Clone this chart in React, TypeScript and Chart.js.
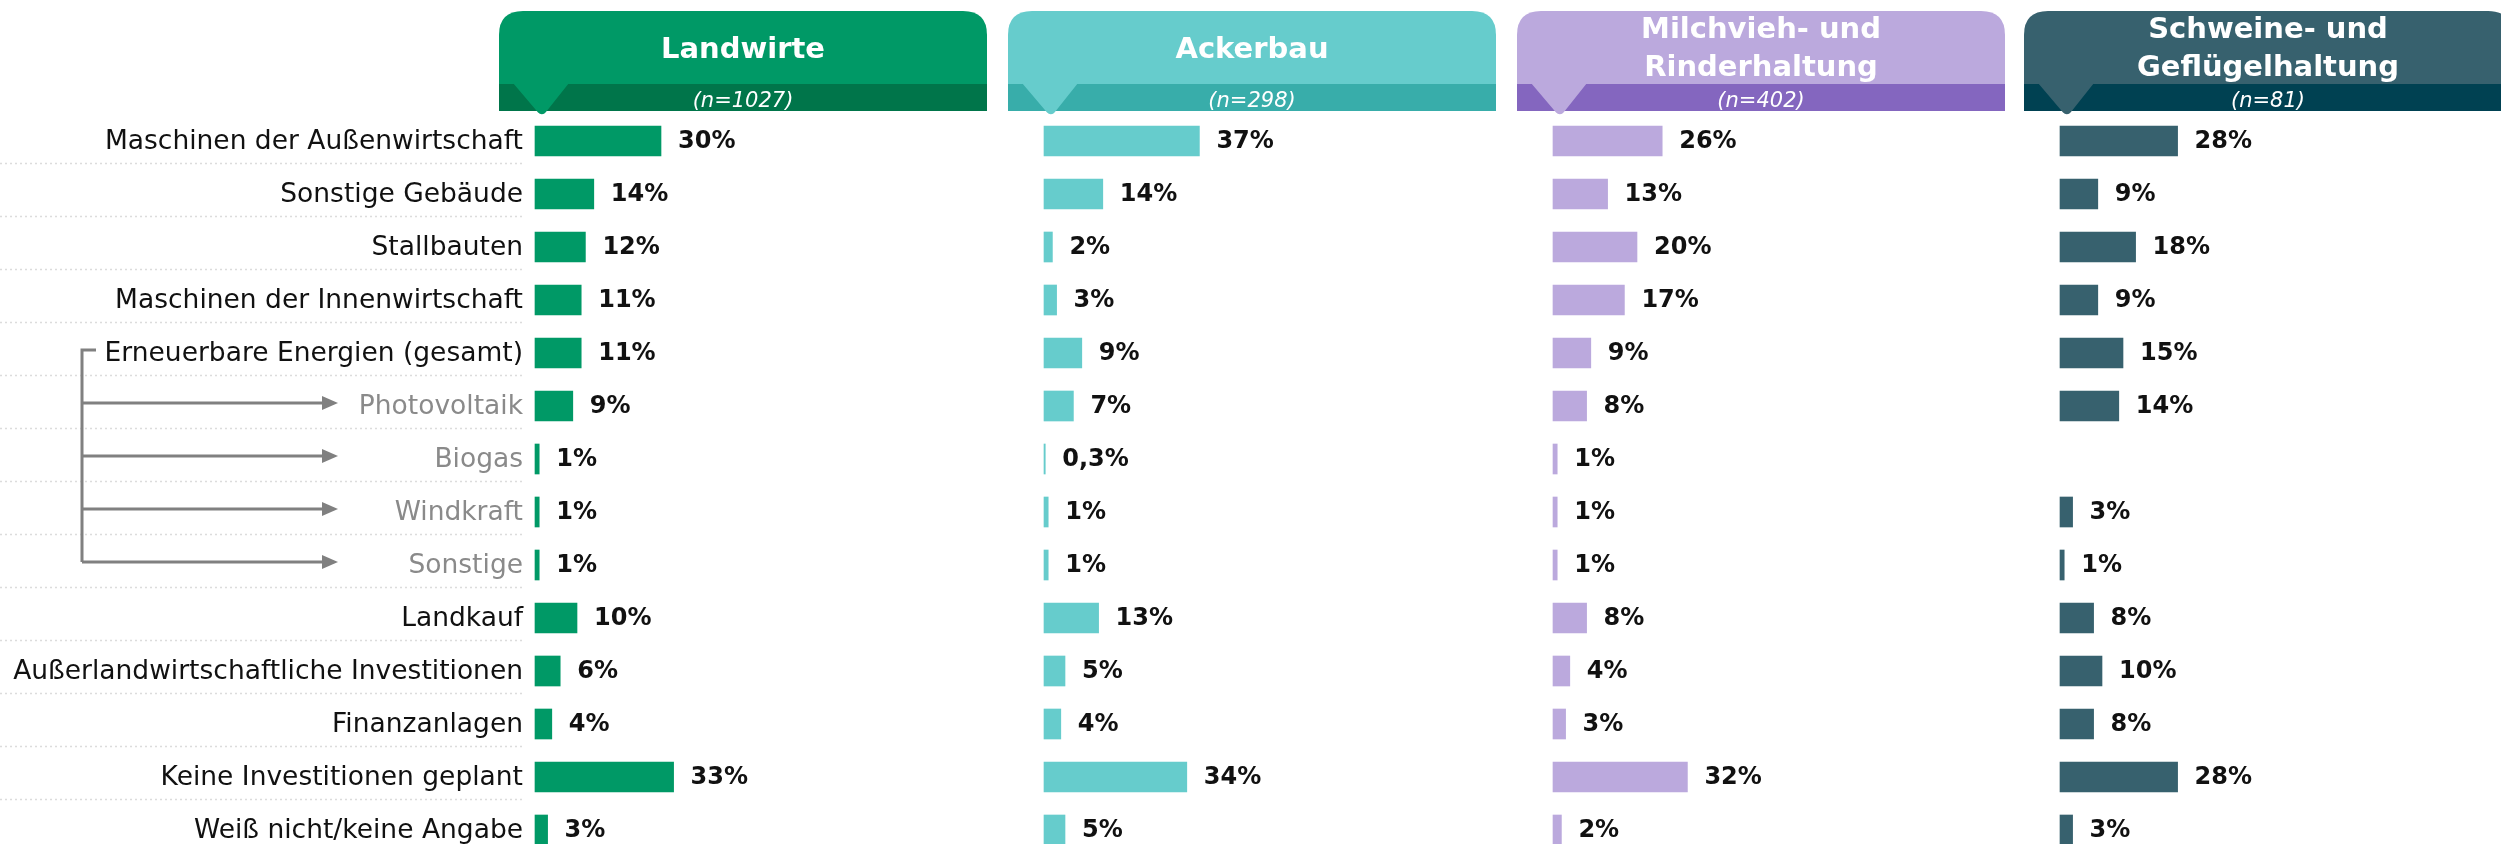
import { useEffect, useRef } from "react";
import { Chart, registerables } from "chart.js";

Chart.register(...registerables);

// ---------- data ----------
const categories = [
  "Maschinen der Außenwirtschaft",
  "Sonstige Gebäude",
  "Stallbauten",
  "Maschinen der Innenwirtschaft",
  "Erneuerbare Energien (gesamt)",
  "Photovoltaik",
  "Biogas",
  "Windkraft",
  "Sonstige",
  "Landkauf",
  "Außerlandwirtschaftliche Investitionen",
  "Finanzanlagen",
  "Keine Investitionen geplant",
  "Weiß nicht/keine Angabe",
];
const subCategory = [false, false, false, false, false, true, true, true, true, false, false, false, false, false];
const parentIndex = 4;

const landwirte = [30, 14, 12, 11, 11, 9, 1, 1, 1, 10, 6, 4, 33, 3];
const ackerbau = [37, 14, 2, 3, 9, 7, 0.3, 1, 1, 13, 5, 4, 34, 5];
const milchvieh = [26, 13, 20, 17, 9, 8, 1, 1, 1, 8, 4, 3, 32, 2];
const schweine = [28, 9, 18, 9, 15, 14, null, 3, 1, 8, 10, 8, 28, 3];

const groupTitles = [["Landwirte"], ["Ackerbau"], ["Milchvieh- und", "Rinderhaltung"], ["Schweine- und", "Geflügelhaltung"]];
const groupN = ["1027", "298", "402", "81"];
const series = [landwirte, ackerbau, milchvieh, schweine];

// ---------- layout / style ----------
const W = 2501;
const H = 844;
const SCALE_W = 420;
const FONT = "'DejaVu Sans', 'Noto Sans', sans-serif";
const panels = [
  { left: 0, width: 1008, axisWidth: 535, light: "#009966", dark: "#00754A" },
  { left: 1008, width: 509, axisWidth: 36, light: "#66CCCC", dark: "#38ADAA" },
  { left: 1517, width: 507, axisWidth: 36, light: "#BBA9DD", dark: "#8466BF" },
  { left: 2024, width: 477, axisWidth: 36, light: "#37616E", dark: "#004152" },
];

function fmt(v: number) {
  return String(v).replace(".", ",") + "%";
}

function makePlugin(k: number) {
  const p = panels[k];
  return {
    id: "decor" + k,
    beforeDatasetsDraw(chart: any) {
      if (k !== 0) return;
      const ctx = chart.ctx;
      const y = chart.scales.y;
      ctx.save();
      ctx.strokeStyle = "#dcdcdc";
      ctx.lineWidth = 1.5;
      ctx.setLineDash([2, 3]);
      for (let i = 0; i < categories.length - 1; i++) {
        const yy = y.getPixelForValue(i + 0.5) - 4;
        ctx.beginPath();
        ctx.moveTo(0, yy);
        ctx.lineTo(525, yy);
        ctx.stroke();
      }
      ctx.setLineDash([]);
      // bracket with arrows
      ctx.strokeStyle = "#808080";
      ctx.fillStyle = "#808080";
      ctx.lineWidth = 3;
      const subs = subCategory.map((s, i) => (s ? i : -1)).filter((i) => i >= 0);
      const yTop = y.getPixelForValue(parentIndex) - 3;
      const yBot = y.getPixelForValue(subs[subs.length - 1]) - 3;
      ctx.beginPath();
      ctx.moveTo(96, yTop);
      ctx.lineTo(82, yTop);
      ctx.lineTo(82, yBot);
      ctx.stroke();
      subs.forEach((i) => {
        const yy = y.getPixelForValue(i) - 3;
        ctx.beginPath();
        ctx.moveTo(82, yy);
        ctx.lineTo(324, yy);
        ctx.stroke();
        ctx.beginPath();
        ctx.moveTo(322, yy - 7);
        ctx.lineTo(338, yy);
        ctx.lineTo(322, yy + 7);
        ctx.closePath();
        ctx.fill();
      });
      ctx.restore();
    },
    afterDatasetsDraw(chart: any) {
      const ctx = chart.ctx;
      const meta = chart.getDatasetMeta(0);
      const values = series[k];
      ctx.save();
      ctx.fillStyle = "#111111";
      ctx.font = `bold 24px ${FONT}`;
      ctx.textAlign = "left";
      ctx.textBaseline = "middle";
      meta.data.forEach((el: any, i: number) => {
        const v = values[i];
        if (v === null || v === undefined) return;
        ctx.fillText(fmt(v), el.x + 17, el.y + 1);
      });
      ctx.restore();
    },
    afterDraw(chart: any) {
      const ctx = chart.ctx;
      const area = chart.chartArea;
      const hx = area.left - 36;
      const hw = 488;
      const top = 11;
      const bandTop = 84;
      const bottom = 111;
      const r = 24;
      ctx.save();
      ctx.fillStyle = p.light;
      ctx.beginPath();
      ctx.moveTo(hx, bottom);
      ctx.lineTo(hx, top + r);
      ctx.quadraticCurveTo(hx, top, hx + r, top);
      ctx.lineTo(hx + hw - r, top);
      ctx.quadraticCurveTo(hx + hw, top, hx + hw, top + r);
      ctx.lineTo(hx + hw, bottom);
      ctx.closePath();
      ctx.fill();
      ctx.fillStyle = p.dark;
      ctx.fillRect(hx, bandTop, hw, bottom - bandTop);
      // pointer
      const px = area.left;
      ctx.fillStyle = p.light;
      ctx.beginPath();
      ctx.moveTo(px + 34, bandTop - 1);
      ctx.arcTo(px + 7, 117, px - 22, bandTop - 1, 5);
      ctx.lineTo(px - 22, bandTop - 1);
      ctx.closePath();
      ctx.fill();
      // titles
      const cx = hx + hw / 2;
      ctx.fillStyle = "#ffffff";
      ctx.textAlign = "center";
      ctx.textBaseline = "alphabetic";
      ctx.font = `bold 29px ${FONT}`;
      const t = groupTitles[k];
      if (t.length === 1) {
        ctx.fillText(t[0], cx, 58);
      } else {
        ctx.fillText(t[0], cx, 38);
        ctx.fillText(t[1], cx, 76);
      }
      ctx.font = `italic 21px ${FONT}`;
      ctx.fillText(`(n=${groupN[k]})`, cx, 107);
      ctx.restore();
    },
  };
}

function makeConfig(k: number): any {
  const p = panels[k];
  const padLeft = k === 0 ? 0 : p.axisWidth;
  const padRight = p.width - p.axisWidth - SCALE_W;
  return {
    type: "bar",
    data: {
      labels: categories,
      datasets: [
        {
          data: series[k],
          backgroundColor: p.light,
          borderWidth: 0,
          barThickness: 30,
          clip: false,
        },
      ],
    },
    options: {
      indexAxis: "y",
      responsive: false,
      maintainAspectRatio: false,
      animation: false,
      devicePixelRatio: 1,
      layout: { padding: { top: 141, bottom: 14, left: padLeft, right: padRight } },
      plugins: {
        legend: { display: false },
        tooltip: { enabled: false },
        title: { display: false },
      },
      scales: {
        x: { display: false, min: 0, max: 100 },
        y: {
          display: k === 0,
          offset: false,
          grid: { display: false, drawTicks: false },
          border: { display: false },
          ticks: {
            autoSkip: false,
            padding: 12,
            labelOffset: 1,
            font: { family: FONT, size: 26.5, lineHeight: 1 },
            color: (c: any) => (subCategory[c.index] ? "#8a8a8a" : "#111111"),
          },
          afterFit: (s: any) => {
            if (k === 0) {
              s.width = p.axisWidth;
              s.paddingTop = 0;
              s.paddingBottom = 0;
            }
          },
        },
      },
    },
    plugins: [makePlugin(k)],
  };
}

export default function App() {
  const r0 = useRef<HTMLCanvasElement | null>(null);
  const r1 = useRef<HTMLCanvasElement | null>(null);
  const r2 = useRef<HTMLCanvasElement | null>(null);
  const r3 = useRef<HTMLCanvasElement | null>(null);
  const refs = [r0, r1, r2, r3];

  useEffect(() => {
    const charts = refs.map((r, k) => new Chart(r.current as HTMLCanvasElement, makeConfig(k)));
    return () => charts.forEach((c) => c.destroy());
  }, []);

  return (
    <div style={{ position: "absolute", left: 0, top: 0, width: W, height: H, background: "#ffffff", overflow: "hidden" }}>
      {panels.map((p, k) => (
        <canvas
          key={k}
          ref={refs[k]}
          width={p.width}
          height={H}
          style={{ position: "absolute", left: p.left, top: 0, width: p.width, height: H }}
        />
      ))}
    </div>
  );
}
